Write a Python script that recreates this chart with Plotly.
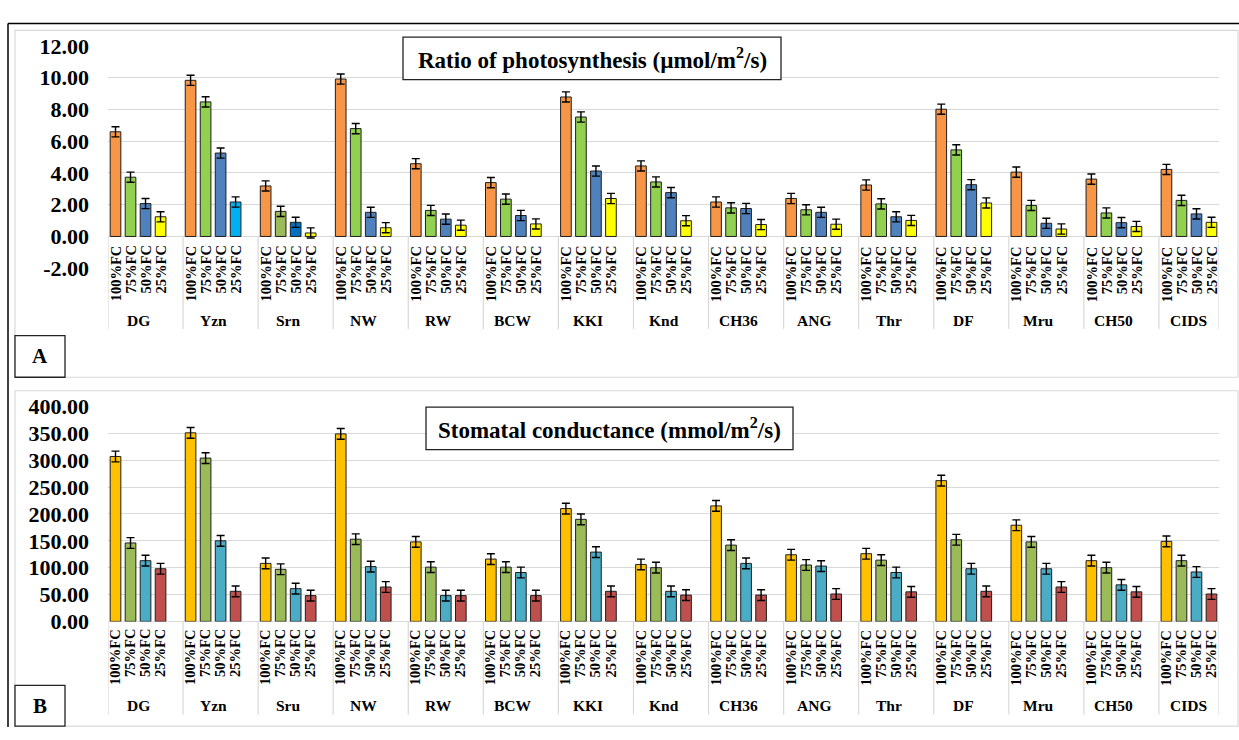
import plotly.graph_objects as go

# ---------------- data ----------------
groups_a = ["DG", "Yzn", "Srn", "NW", "RW", "BCW", "KKI", "Knd", "CH36", "ANG", "Thr", "DF", "Mru", "CH50", "CIDS"]
groups_b = ["DG", "Yzn", "Sru", "NW", "RW", "BCW", "KKI", "Knd", "CH36", "ANG", "Thr", "DF", "Mru", "CH50", "CIDS"]
levels = ["100%FC", "75%FC", "50%FC", "25%FC"]

# Ratio of photosynthesis (umol/m2/s)
ps_100 = [6.59, 9.83, 3.18, 9.91, 4.58, 3.39, 8.78, 4.44, 2.17, 2.39, 3.24, 8.01, 4.05, 3.61, 4.22]
ps_75 = [3.73, 8.47, 1.58, 6.79, 1.64, 2.35, 7.52, 3.43, 1.80, 1.68, 2.05, 5.45, 1.95, 1.48, 2.27]
ps_50 = [2.07, 5.25, 0.89, 1.52, 1.09, 1.32, 4.12, 2.76, 1.76, 1.52, 1.24, 3.26, 0.83, 0.87, 1.42]
ps_25 = [1.24, 2.17, 0.22, 0.55, 0.71, 0.79, 2.39, 0.99, 0.75, 0.77, 1.01, 2.11, 0.47, 0.63, 0.89]
ps_err = 0.32

# Stomatal conductance (mmol/m2/s)
gs_100 = [307, 351, 108, 349, 148, 116, 210, 106, 215, 124, 126, 262, 179, 113, 149]
gs_75 = [146, 304, 97, 153, 101, 101, 190, 100, 142, 105, 114, 152, 148, 100, 113]
gs_50 = [113, 150, 61, 102, 48, 91, 129, 56, 108, 103, 91, 98, 98, 68, 92]
gs_25 = [98, 56, 48, 64, 48, 48, 56, 49, 49, 51, 55, 56, 64, 55, 51]
gs_err = 10

ps_colors = {
    "100%FC": ["#F79646"] * 15,
    "75%FC": ["#92D050", "#92D050", "#9BBB59"] + ["#92D050"] * 12,
    "50%FC": ["#4F81BD", "#4F81BD", "#0070C0"] + ["#4F81BD"] * 12,
    "25%FC": ["#FFFF00", "#00B0F0"] + ["#FFFF00"] * 13,
}
gs_colors = {"100%FC": "#FFC000", "75%FC": "#9BBB59", "50%FC": "#4BACC6", "25%FC": "#C0504D"}

ps_ticks = [-2, 0, 2, 4, 6, 8, 10, 12]
gs_ticks = [0, 50, 100, 150, 200, 250, 300, 350, 400]

# ---------------- layout helpers ----------------
W, H = 1239, 740
FONT = "'Liberation Serif', 'Times New Roman', 'DejaVu Serif', serif"
SLOTS = 5  # 4 bars + one empty slot per group


def fx(px):
    return px / W


def fy(py):
    return 1 - py / H


def xpos(g, j):
    return g * SLOTS + j


fig = go.Figure()

ps_vals = [ps_100, ps_75, ps_50, ps_25]
gs_vals = [gs_100, gs_75, gs_50, gs_25]

for j, lev in enumerate(levels):
    fig.add_trace(go.Bar(
        x=[xpos(g, j) for g in range(len(groups_a))], y=ps_vals[j], name=lev,
        width=0.71, marker=dict(color=ps_colors[lev], line=dict(color="#1f1f1f", width=1)),
        error_y=dict(type="constant", value=ps_err, color="#000000", thickness=1.4, width=4),
        xaxis="x", yaxis="y", showlegend=False))
    fig.add_trace(go.Bar(
        x=[xpos(g, j) for g in range(len(groups_b))], y=gs_vals[j], name=lev,
        width=0.71, marker=dict(color=gs_colors[lev], line=dict(color="#1f1f1f", width=1)),
        error_y=dict(type="constant", value=gs_err, color="#000000", thickness=1.4, width=4),
        xaxis="x2", yaxis="y2", showlegend=False))

nslots = len(groups_a) * SLOTS - 1
xdom = [fx(108), fx(1219)]
grid = "#D9D9D9"
ytickfont = dict(family=FONT, size=22, color="#000000", weight="bold")

fig.update_layout(
    width=W, height=H, margin=dict(l=0, r=0, t=0, b=0),
    paper_bgcolor="white", plot_bgcolor="white", barmode="overlay",
    font=dict(family=FONT),
    xaxis=dict(domain=xdom, range=[-0.5, nslots - 0.5], showticklabels=False, showgrid=False,
               zeroline=False, anchor="y"),
    yaxis=dict(domain=[fy(265.2), fy(35)], range=[-2, 12], tickvals=ps_ticks,
               ticktext=[f"{v:.2f}" for v in ps_ticks], tickfont=ytickfont, gridcolor=grid,
               gridwidth=1, zeroline=True, zerolinecolor=grid, zerolinewidth=1,
               ticklabelstandoff=18, anchor="x"),
    xaxis2=dict(domain=xdom, range=[-0.5, nslots - 0.5], showticklabels=False, showgrid=False,
                zeroline=False, anchor="y2"),
    yaxis2=dict(domain=[fy(630.7), fy(408.3)], range=[0, 400], tickvals=gs_ticks,
                ticktext=[f"{v:.2f}" for v in gs_ticks], tickfont=ytickfont, gridcolor=grid,
                gridwidth=1, zeroline=True, zerolinecolor=grid, zerolinewidth=1,
                ticklabelstandoff=18, anchor="x2"),
)

shapes = []
annotations = []

# outer frame (black, top and left) and inner grey chart frames
shapes.append(dict(type="line", xref="paper", yref="paper", x0=fx(8), x1=1, y0=fy(12), y1=fy(12),
                   line=dict(color="black", width=1.5), layer="above"))
shapes.append(dict(type="line", xref="paper", yref="paper", x0=fx(8), x1=fx(8), y0=fy(12), y1=0,
                   line=dict(color="black", width=1.5), layer="above"))
for (t, b) in [(19, 378), (392, 739)]:
    shapes.append(dict(type="rect", xref="paper", yref="paper", x0=fx(15), x1=fx(1238),
                       y0=fy(b), y1=fy(t), line=dict(color=grid, width=1.2), layer="below"))

# category dividers, labels
panels = [
    dict(xref="x", groups=groups_a, div=(232.3, 328), lab_top=241, grp_y=319),
    dict(xref="x2", groups=groups_b, div=(630.7, 727), lab_top=638, grp_y=718),
]
for p in panels:
    ng = len(p["groups"])
    for g in range(ng + 1):
        xd = g * SLOTS - 0.5 if g < ng else nslots - 0.5
        shapes.append(dict(type="line", xref=p["xref"], yref="paper", x0=xd, x1=xd,
                           y0=fy(p["div"][1]), y1=fy(p["div"][0]),
                           line=dict(color=grid, width=1.2), layer="below"))
    for g, name in enumerate(p["groups"]):
        for j, lev in enumerate(levels):
            annotations.append(dict(xref=p["xref"], yref="paper", x=xpos(g, j), y=fy(p["lab_top"]),
                                    text=lev, textangle=-90, showarrow=False, xanchor="center",
                                    yanchor="top", borderpad=0,
                                    font=dict(family=FONT, size=14.5, color="black", weight="bold")))
        annotations.append(dict(xref=p["xref"], yref="paper", x=xpos(g, 1.5), y=fy(p["grp_y"]),
                                text=name, showarrow=False, xanchor="center", yanchor="middle",
                                font=dict(family=FONT, size=15.5, color="black", weight="bold")))

# title boxes
titles = [
    ("Ratio of photosynthesis (µmol/m<sup>2</sup>/s)", 403, 781, 26, 70),
    ("Stomatal conductance (mmol/m<sup>2</sup>/s)", 426, 793, 409, 453),
]
for text, x0, x1, y0, y1 in titles:
    shapes.append(dict(type="rect", xref="paper", yref="paper", x0=fx(x0), x1=fx(x1), y0=fy(y1), y1=fy(y0),
                       fillcolor="white", line=dict(color="#222222", width=1.3), layer="above"))
    annotations.append(dict(xref="paper", yref="paper", x=fx((x0 + x1) / 2), y=fy((y0 + y1) / 2),
                            text=text, showarrow=False, xanchor="center", yanchor="middle",
                            font=dict(family=FONT, size=23, color="black", weight="bold")))

# panel letters
for letter, y0, y1 in [("A", 335, 378), ("B", 697, 739)]:
    shapes.append(dict(type="rect", xref="paper", yref="paper", x0=fx(15), x1=fx(65), y0=fy(y1), y1=fy(y0),
                       fillcolor="white", line=dict(color="#222222", width=1.3), layer="above"))
    annotations.append(dict(xref="paper", yref="paper", x=fx(40), y=fy((y0 + y1) / 2),
                            text=letter, showarrow=False, xanchor="center", yanchor="middle",
                            font=dict(family=FONT, size=21, color="black", weight="bold")))

fig.update_layout(shapes=shapes, annotations=annotations)
fig.write_html("out.html")
